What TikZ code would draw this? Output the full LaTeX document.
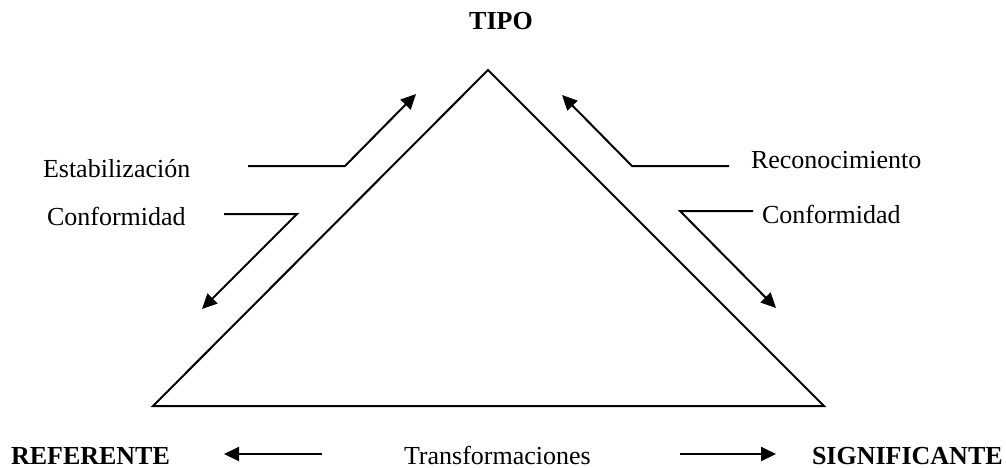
\documentclass[tikz,border=0pt]{standalone}
\usepackage{fontspec}
\setmainfont{Liberation Serif}
\usetikzlibrary{positioning,arrows.meta}

\begin{document}
\begin{tikzpicture}[
x=0.5pt, y=-0.5pt, line width=1pt,
label/.style={inner sep=0pt, anchor=base west, font=\fontsize{13}{15}\selectfont},
boldlabel/.style={label, font=\fontsize{13}{15}\selectfont\bfseries},
arr/.style={-{Triangle[length=7.5pt,width=7pt]}}]
\useasboundingbox (0,0) rectangle (1006,467);

% corners of the triangle
\coordinate (apex) at (488,70);
\coordinate (left) at (153,406);
\coordinate (right) at (824,406);
\draw[line join=miter] (apex) -- (left) -- (right) -- cycle;

% labels
\node[boldlabel, anchor=base] (tipo) at (501,29) {TIPO};
\node[label] (estab) at (42,177) {Estabilización};
\node[label] (conf1) at (46,225) {Conformidad};
\node[label] (recon) at (750,168) {Reconocimiento};
\node[label] (conf2) at (761,223) {Conformidad};
\node[boldlabel] (ref) at (10,464) {REFERENTE};
\node[label] (trans) at (403,464) {Transformaciones};
\node[boldlabel] (sig) at (811,464) {SIGNIFICANTE};

% bent arrows along the sides
\coordinate (e1) at (248,166);
\coordinate (e2) at (345,166);
\coordinate (e3) at (416,94);
\draw[arr] (e1) -- (e2) -- (e3);

\coordinate (c1) at (224,214);
\coordinate (c2) at (297,214);
\coordinate (c3) at (202,309);
\draw[arr] (c1) -- (c2) -- (c3);

\coordinate (r1) at (729,166);
\coordinate (r2) at (632,166);
\coordinate (r3) at (562,95);
\draw[arr] (r1) -- (r2) -- (r3);

\coordinate (d1) at (753,211);
\coordinate (d2) at (680,211);
\coordinate (d3) at (776,308);
\draw[arr] (d1) -- (d2) -- (d3);

% arrows at the bottom
\coordinate (t1) at (322,454);
\coordinate (t2) at (224,454);
\coordinate (t3) at (680,454);
\coordinate (t4) at (776,454);
\draw[arr] (t1) -- (t2);
\draw[arr] (t3) -- (t4);
\end{tikzpicture}
\end{document}
